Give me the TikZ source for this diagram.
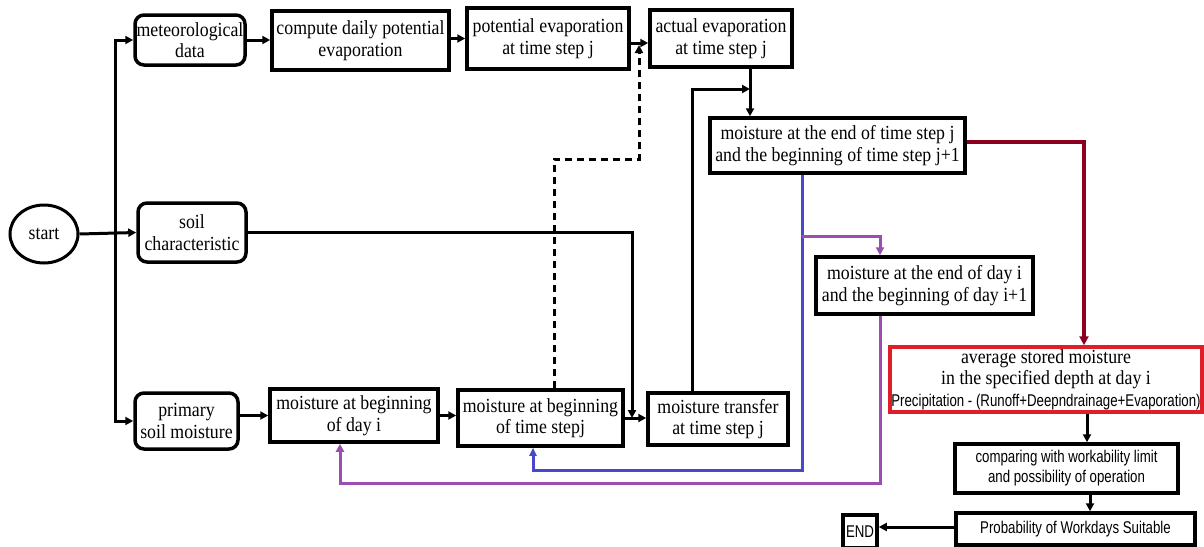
\documentclass[tikz,border=0pt]{standalone}
\usepackage{fontspec}
\setmainfont{Liberation Serif}[FakeStretch=0.89]
\newfontfamily\narrowsans[FakeStretch=0.78]{Liberation Sans}
\usetikzlibrary{arrows.meta,shapes.geometric}
\definecolor{cblue}{RGB}{72,72,204}
\definecolor{cpurp}{RGB}{155,78,176}
\definecolor{cdred}{RGB}{140,0,30}
\definecolor{cred}{RGB}{222,30,40}
\begin{document}
\begin{tikzpicture}[x=1pt,y=-1pt,
  wh/.style 2 args={minimum width=#1pt,minimum height=#2pt},
  bx/.style={draw,line width=3.5pt,inner sep=0pt,align=center,font=\fontsize{20}{21.5}\selectfont},
  rbx/.style={bx,rounded corners=9pt},
  sbx/.style={bx,font=\narrowsans\fontsize{17}{20}\selectfont},
  tip/.style={-{Triangle[length=8pt,width=8pt]}},
  con/.style={line width=3pt,tip},
  dcon/.style={con,dash pattern=on 7pt off 5pt},
  bcon/.style={line width=3pt,draw=cblue,-{Triangle[length=8pt,width=7pt,fill=cblue]}},
  pcon/.style={line width=3pt,draw=cpurp,-{Triangle[length=8pt,width=8pt,fill=cpurp]}},
  rcon/.style={line width=3.5pt,draw=cdred,-{Triangle[length=9pt,width=9pt,fill=cdred]}}]
\useasboundingbox (0,0) rectangle (1204,546);

% nodes
\node[draw,ellipse,line width=3pt,wh={68}{58},inner sep=0pt,font=\fontsize{20}{21}\selectfont] (start) at (44,234) {start};
\node[rbx,wh={110}{50}] (met) at (190,40) {meteorological\\data};
\node[bx,wh={177}{59}] (comp) at (360.5,40.5) {compute daily potential\\evaporation};
\node[bx,wh={162}{61}] (pot) at (548,38.5) {potential evaporation\\at time step j};
\node[bx,wh={142}{57}] (act) at (721,38.5) {actual evaporation\\at time step j};
\node[bx,wh={255}{55}] (mend) at (837.5,145.5) {moisture at the end of time step j\\and the beginning of time step j+1};
\node[rbx,wh={108}{59}] (soil) at (192,232.5) {soil\\characteristic};
\node[bx,wh={217}{57}] (dend) at (924.5,285.5) {moisture at the end of day i\\and the beginning of day i+1};
\node[bx,draw=cred,wh={312}{65}] (avg) at (1046,379.5) {average stored moisture\\in the specified depth at day i\\{\narrowsans\fontsize{17}{17}\selectfont Precipitation - (Runoff+Deepndrainage+Evaporation)}};
\node[rbx,wh={103}{56}] (prim) at (186.5,421) {primary\\soil moisture};
\node[bx,wh={168}{53}] (mbd) at (354,415.5) {moisture at beginning\\of day i};
\node[bx,wh={165}{56}] (mbt) at (540.5,418) {moisture at beginning\\of time stepj};
\node[bx,wh={140}{52}] (mtr) at (718,419) {moisture transfer\\at time step j};
\node[sbx,wh={223}{49}] (cmp) at (1066.5,468.5) {comparing with workability limit\\and possibility of operation};
\node[sbx,wh={239}{32}] (prob) at (1075.5,529) {Probability of Workdays Suitable};
\node[sbx,wh={34}{33}] (end) at (860,531.5) {END};

% coordinates
\coordinate (trunk) at (115,234);
\coordinate (d1) at (554,159);
\coordinate (d2) at (639,159);
\coordinate (d3) at (639,45);
\coordinate (s1) at (632,232.5);
\coordinate (u1) at (692,89);
\coordinate (v) at (750,0);
\coordinate (r1) at (1084,142);
\coordinate (b1) at (802,470);
\coordinate (b2) at (533,470);
\coordinate (p0) at (802,236);
\coordinate (p1) at (880,236);
\coordinate (p2) at (880,483);
\coordinate (p3) at (340,483);
\coordinate (c1) at (1087,0);
\coordinate (c2) at (1090,0);

% connectors
\draw[con] (start.east) -- (soil.west);
\draw[con] (trunk) |- (met.west);
\draw[con] (trunk) |- (prim.west);
\draw[con] (met.east) -- (comp.west |- met.east);
\draw[con] (comp.east |- pot.west) -- (pot.west);
\draw[con] ([yshift=-4.5pt]pot.east) -- ([yshift=-4.5pt]act.west);
\draw[dcon] (mbt.north -| d1) -- (d1) -- (d2) -- (d3);
\draw[con] (soil.east) -- (s1) -- (s1 |- mbt.east);
\draw[con] (prim.east |- mbd.west) -- (mbd.west);
\draw[con] (mbd.east) -- (mbd.east -| mbt.west);
\draw[con] (mbt.east) -- (mbt.east -| mtr.west);
\draw[con] (act.south -| v) -- (mend.north -| v);
\draw[con] (mtr.north -| u1) -- (u1) -- (u1 -| v);
\draw[rcon] ([yshift=3.5pt]mend.east) -- (r1) -- (r1 |- avg.north);
\draw[bcon] (mend.south -| b1) -- (b1) -- (b2) -- (b2 |- mbt.south);
\draw[pcon] (p0) -- (p1) -- (p1 |- dend.north);
\draw[pcon] (dend.south -| p2) -- (p2) -- (p3) -- (p3 |- mbd.south);
\draw[con] (avg.south -| c1) -- (cmp.north -| c1);
\draw[con] (cmp.south -| c2) -- (prob.north -| c2);
\draw[con] ([yshift=2pt]prob.west) -- ([yshift=2pt]prob.west -| end.east);
\end{tikzpicture}
\end{document}
